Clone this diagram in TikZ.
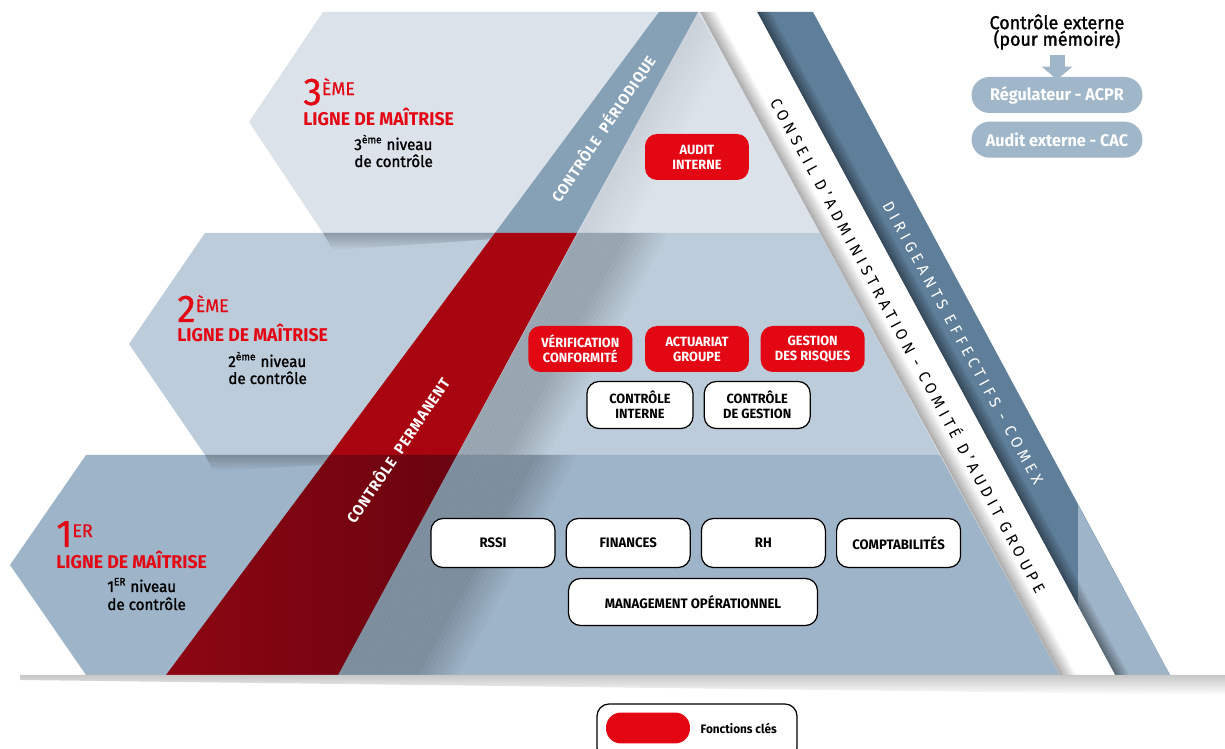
\documentclass[tikz,border=0pt]{standalone}
\usepackage{fontspec}
\setmainfont{Fira Sans}[FakeStretch=0.96]
\usepackage{xcolor}
\usepackage{tikz}
\usetikzlibrary{
    positioning,
    arrows.meta,
    calc
}
\definecolor{keyred}{HTML}{E30613}
\definecolor{rowthree}{HTML}{DBE2EA}
\definecolor{rowtwo}{HTML}{BDCCDA}
\definecolor{rowone}{HTML}{9EB4C8}
\definecolor{periodic}{HTML}{86A0B6}
\definecolor{comex}{HTML}{5E7E9A}
\definecolor{permred}{HTML}{A80511}
\definecolor{permdark}{HTML}{8D0612}
\definecolor{permdeep}{HTML}{690410}
\definecolor{extblue}{HTML}{A0B6C9}
\definecolor{shadetwo}{HTML}{8E9AA8}
\definecolor{shadeone}{HTML}{7C8C9A}
\newcommand{\wgap}{\hspace{0.55em}}
\tikzset{
    keybox/.style={
        rectangle, rounded corners=0.24cm,
        fill=keyred, text=white,
        minimum width=2.08cm, minimum height=0.92cm,
        inner sep=1pt, align=center,
        font=\fontsize{7.6}{8.4}\selectfont\bfseries
    },
    ctrlbox/.style={
        rectangle, rounded corners=0.24cm,
        draw=black, line width=0.7pt, fill=white,
        minimum width=2.12cm, minimum height=0.94cm,
        inner sep=1pt, align=center,
        font=\fontsize{7.6}{8.4}\selectfont\bfseries
    },
    opbox/.style={
        ctrlbox, minimum width=2.48cm, minimum height=0.98cm,
        font=\fontsize{7.8}{8.4}\selectfont\bfseries
    },
    extpill/.style={
        rectangle, rounded corners=0.36cm,
        fill=extblue, text=white,
        minimum width=3.42cm, minimum height=0.72cm,
        font=\fontsize{9.6}{10}\selectfont\bfseries
    },
    numtxt/.style={
        anchor=base west, inner sep=0pt, text=keyred,
        font=\fontsize{22}{24}\selectfont\addfontfeature{FakeBold=0.6}
    },
    lignetxt/.style={
        anchor=base west, inner sep=0pt, text=keyred,
        font=\fontsize{10.5}{12}\selectfont\bfseries
    },
    niveautxt/.style={
        anchor=base west, inner sep=0pt,
        font=\fontsize{9}{10}\selectfont\addfontfeature{FakeBold=1.5}
    },
    bandtxt/.style={
        text=white, inner sep=0pt,
        font=\fontsize{8.6}{9}\selectfont\bfseries\addfontfeature{LetterSpace=6}
    },
    boardtxt/.style={
        inner sep=0pt,
        font=\fontsize{9}{10}\selectfont\addfontfeature{LetterSpace=28}
    }
}

\begin{document}
\begin{tikzpicture}[
    x=0.02cm, y=-0.02cm,
    extarrow/.style={-{Triangle[length=0.26cm,width=0.6cm]}, line width=0.3cm, draw=extblue},
    stripshadow/.style={fill=black, draw=none}
  ]
    \clip (0,0) rectangle (1225,749);
    \fill[white] (0,0) rectangle (1225,749);

    % the three lines of control
    \fill[rowthree] (323,12) -- (700,12) -- (820,233) -- (323,233) -- (249,122) -- cycle;
    \fill[rowtwo] (205,233) -- (820,233) -- (940,455) -- (205,455) -- (129,344) -- cycle;
    \fill[rowone] (86,455) -- (940,455) -- (1060,675) -- (86,675) -- (10,565) -- cycle;

    % shading inside the pyramid, right of the red band
    \begin{scope}
      \clip (698,12) -- (820,233) -- (577,233) -- cycle;
      \foreach \i [evaluate=\i as \op using {0.07*(1-\i/10)}] in {0,...,9}
        \fill[stripshadow, opacity=\op] (698+5*\i,12) -- (703+5*\i,12) -- (343+5*\i,675) -- (338+5*\i,675) -- cycle;
    \end{scope}
    \begin{scope}
      \clip (577,233) -- (820,233) -- (940,455) -- (457,455) -- cycle;
      \foreach \i [evaluate=\i as \op using {min(0.18,0.18*(18-\i)/9)}] in {0,...,17}
        \fill[stripshadow, opacity=\op] (698+5*\i,12) -- (703+5*\i,12) -- (343+5*\i,675) -- (338+5*\i,675) -- cycle;
    \end{scope}
    \begin{scope}
      \clip (457,455) -- (940,455) -- (1060,675) -- (338,675) -- cycle;
      \foreach \i [evaluate=\i as \op using {min(0.2,0.2*(24-\i)/9)}] in {0,...,23}
        \fill[stripshadow, opacity=\op] (698+5*\i,12) -- (703+5*\i,12) -- (343+5*\i,675) -- (338+5*\i,675) -- cycle;
    \end{scope}

    % shadows of the upper lines
    \shade[top color=shadetwo, bottom color=rowtwo] (323,233) -- (497,233) -- (495,239) -- (333,250) -- cycle;
    \shade[top color=shadeone, bottom color=rowone] (205,455) -- (330,455) -- (322,465) -- (213,471) -- cycle;

    % periodic and permanent control bands
    \fill[periodic] (659,12) -- (698,12) -- (577,233) -- (495,233) -- cycle;
    \fill[permred] (495,233) -- (577,233) -- (457,455) -- (330,455) -- cycle;
    \shade[left color=permdark, right color=permdeep] (330,455) -- (457,455) -- (338,675) -- (166,675) -- cycle;

    % governance bands
    \fill[comex] (757,12) -- (813,12) -- (1170,675) -- (1115,675) -- cycle;
    \fill[rowone] (1078,505) -- (1170,675) -- (1078,675) -- cycle;
    \foreach \i [evaluate=\i as \op using {0.4*(1-\i/7)}] in {0,...,6}
      \fill[stripshadow, opacity=\op] (757+2*\i,12) -- (759+2*\i,12) -- (1117+2*\i,675) -- (1115+2*\i,675) -- cycle;
    \fill[white] (700,12) -- (757,12) -- (1115,675) -- (1060,675) -- cycle;
    \foreach \i [evaluate=\i as \op using {0.3*(1-\i/8)}] in {0,...,7}
      \fill[stripshadow, opacity=\op] (700+2*\i,12) -- (702+2*\i,12) -- (1062+2*\i,675) -- (1060+2*\i,675) -- cycle;

    % ground shadow
    \shade[top color=black!22, bottom color=white] (20,675) -- (1225,675) -- (1225,695) -- (20,680) -- cycle;

    % band labels
    \node[bandtxt, rotate=56] (periodtxt) at (603,129) {CONTRÔLE\wgap PÉRIODIQUE};
    \node[bandtxt, rotate=56] (permtxt) at (397,450) {CONTRÔLE\wgap PERMANENT};
    \node[boardtxt, rotate=-61.6] (board) at (909,345) {CONSEIL\wgap D’ADMINISTRATION\wgap -\wgap COMITÉ\wgap D’AUDIT\wgap GROUPE};
    \node[boardtxt, text=white, rotate=-61.6] (comextxt) at (963,343) {DIRIGEANTS\wgap EFFECTIFS\wgap -\wgap COMEX};

    % line labels
    \node[numtxt] (num3) at (303,105) {3\raisebox{5.6pt}{\fontsize{10.6}{11}\selectfont ÈME}};
    \node[lignetxt] (ligne3) at (303,126) {LIGNE DE MAÎTRISE};
    \node[niveautxt] (niv3) at (354,150) {3\textsuperscript{ème} niveau};
    \node[niveautxt] (ctrl3) at (354,167) {de contrôle};

    \node[numtxt] (num2) at (177,322) {2\raisebox{5.6pt}{\fontsize{10.6}{11}\selectfont ÈME}};
    \node[lignetxt] (ligne2) at (177,342) {LIGNE DE MAÎTRISE};
    \node[niveautxt] (niv2) at (228,367) {2\textsuperscript{ème} niveau};
    \node[niveautxt] (ctrl2) at (228,384) {de contrôle};

    \node[numtxt] (num1) at (56,547) {1\raisebox{5.6pt}{\fontsize{10.6}{11}\selectfont ER}};
    \node[lignetxt] (ligne1) at (56,569) {LIGNE DE MAÎTRISE};
    \node[niveautxt] (niv1) at (107,592) {1\textsuperscript{ER} niveau};
    \node[niveautxt] (ctrl1) at (107,610) {de contrôle};

    % functions
    \node[keybox] (audit) at (697,157) {AUDIT\\INTERNE};
    \node[keybox] (actuariat) at (697,349) {ACTUARIAT\\GROUPE};
    \node[keybox, left=0.24cm of actuariat] (verif) {VÉRIFICATION\\CONFORMITÉ};
    \node[keybox, right=0.22cm of actuariat] (risques) {GESTION\\DES RISQUES};
    \node[ctrlbox] (ctrlint) at (640,405) {CONTRÔLE\\INTERNE};
    \node[ctrlbox, right=0.2cm of ctrlint] (ctrlgest) {CONTRÔLE\\DE GESTION};

    \node[opbox] (rssi) at (493,543) {RSSI};
    \node[opbox, right=0.2cm of rssi] (finances) {FINANCES};
    \node[opbox, right=0.2cm of finances] (rh) {RH};
    \node[opbox, right=0.2cm of rh] (compta) {COMPTABILITÉS};
    \node[opbox, minimum width=4.98cm, minimum height=0.94cm] (management) at (693,602) {MANAGEMENT OPÉRATIONNEL};

    % external control
    \node[inner sep=0pt, align=center, font=\fontsize{10.6}{9.4}\selectfont\addfontfeature{FakeBold=1.5}] (extlabel) at (1057,32) {Contrôle externe\\(pour mémoire)};
    \node[extpill] (acpr) at (1057,95) {Régulateur - ACPR};
    \node[extpill, below=0.16cm of acpr] (cac) {Audit externe - CAC};
    \draw[extarrow, shorten <=0.1cm, shorten >=-0.06cm] (extlabel) -- (acpr);

    % legend
    \node[draw, line width=0.7pt, rounded corners=0.24cm, fill=white,
          minimum width=4cm, minimum height=1.12cm] (legend) at (697,732) {};
    \node[rectangle, rounded corners=0.3cm, fill=keyred,
          minimum width=1.68cm, minimum height=0.62cm] (legendkey) at (648,728) {};
    \node[right=0.2cm of legendkey, inner sep=0pt, font=\fontsize{7}{8}\selectfont\bfseries] (legendtxt) {Fonctions clés};

\end{tikzpicture}
\end{document}
